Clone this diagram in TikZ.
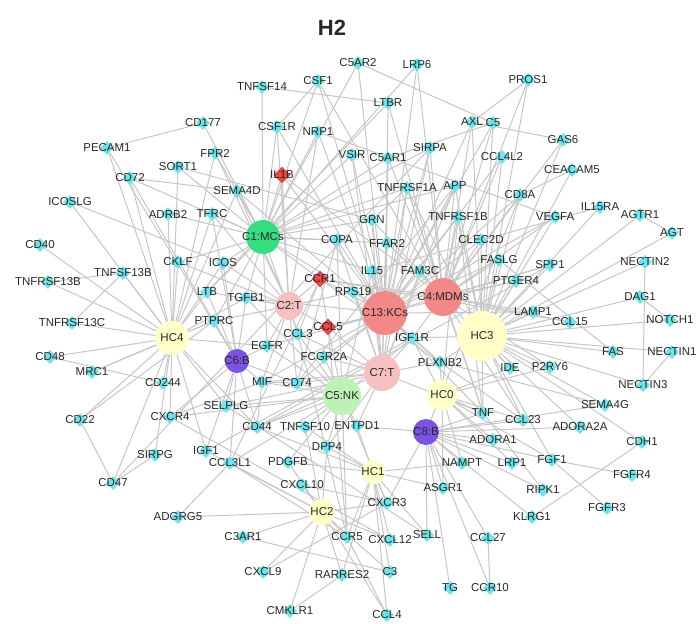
\documentclass[tikz,border=0pt]{standalone}
\usepackage{fontspec}
\setmainfont{Liberation Sans}
\usetikzlibrary{shapes.geometric}
\pgfdeclarelayer{back}
\pgfsetlayers{back,main}
\definecolor{genecyan}{RGB}{110,228,234}
\definecolor{genered}{RGB}{232,72,72}
\definecolor{mcgreen}{RGB}{52,222,128}
\definecolor{nkgreen}{RGB}{188,242,180}
\definecolor{kcsalmon}{RGB}{242,136,136}
\definecolor{tpink}{RGB}{247,192,192}
\definecolor{bpurple}{RGB}{124,82,228}
\definecolor{hcyellow}{RGB}{255,255,200}
\definecolor{linkgray}{RGB}{198,198,198}
\definecolor{txtgray}{RGB}{40,40,40}
\begin{document}
\begin{tikzpicture}[x=1pt,y=-1pt,
  every label/.style={font=\fontsize{11.5}{12}\selectfont, text=txtgray, inner sep=0pt},
  gene/.style={diamond, fill=genecyan, inner sep=0pt, minimum size=14pt, label={center:#1}},
  redgene/.style={gene=#1, fill=genered, minimum size=17pt},
  hub/.style={circle, inner sep=0pt, fill=#1},
  link/.style={draw=linkgray, line width=1pt}]
\useasboundingbox (0,0) rectangle (697,624);

\node[font=\bfseries\fontsize{22}{24}\selectfont, text=txtgray] (title) at (332,28) {H2};

% cell type hubs
\node[hub=mcgreen, minimum size=34pt, label={center:{C1:MCs}}] (mc1) at (263,237) {};
\node[hub=tpink, minimum size=28pt, label={center:{C2:T}}] (t2) at (289,306) {};
\node[hub=kcsalmon, minimum size=44pt, label={center:{C13:KCs}}] (kc13) at (385,313) {};
\node[hub=kcsalmon, minimum size=38pt, label={center:{C4:MDMs}}] (mdm4) at (443,297) {};
\node[hub=hcyellow, minimum size=50pt, label={center:HC3}] (hc3) at (482,336) {};
\node[hub=hcyellow, minimum size=34pt, label={center:HC4}] (hc4) at (172,338) {};
\node[hub=bpurple, minimum size=24pt, label={center:{C6:B}}] (b6) at (237,361) {};
\node[hub=tpink, minimum size=36pt, label={center:{C7:T}}] (t7) at (382,373) {};
\node[hub=nkgreen, minimum size=38pt, label={center:{C5:NK}}] (nk5) at (342,396) {};
\node[hub=hcyellow, minimum size=30pt, label={center:HC0}] (hc0) at (442,395) {};
\node[hub=bpurple, minimum size=26pt, label={center:{C8:B}}] (b8) at (426,432) {};
\node[hub=hcyellow, minimum size=24pt, label={center:HC1}] (hc1) at (373,472) {};
\node[hub=hcyellow, minimum size=26pt, label={center:HC2}] (hc2) at (322,512) {};

% genes
\foreach \n/\x/\y in {TNFSF14/262/87, CSF1/318/81, C5AR2/358/63, LRP6/417/65, PROS1/528/80,
  LTBR/388/103, CD177/203/123, CSF1R/277/127, NRP1/318/132, AXL/472/122, C5/493/123,
  PECAM1/107/148, FPR2/215/153, VSIR/352/155, C5AR1/388/158, SIRPA/430/148, GAS6/563/140,
  SORT1/178/167, CD72/130/178, SEMA4D/237/191, CCL4L2/502/157, TNFRSF1A/407/188, APP/455/186,
  CEACAM5/572/170, CD8A/520/195, ICOSLG/70/202, ADRB2/168/214, TFRC/212/214, GRN/372/220,
  TNFRSF1B/458/217, VEGFA/555/217, IL15RA/600/207, AGTR1/640/215, AGT/672/233, COPA/337/240,
  FFAR2/387/243, CLEC2D/481/240, CD40/40/245, FASLG/499/260, SPP1/550/265, NECTIN2/645/262,
  TNFSF13B/123/273, CKLF/178/262, ICOS/223/263, TNFRSF13B/48/282, IL15/372/271, FAM3C/420/271,
  PTGER4/516/281, DAG1/640/297, RPS19/353/292, LTB/207/292, TGFB1/246/298, LAMP1/533/312,
  CCL15/570/322, NOTCH1/670/320, TNFRSF13C/72/323, PTPRC/214/321, CCL3/298/334, IGF1R/412/338,
  FAS/613/352, NECTIN1/672/352, CD48/50/357, EGFR/267/346, FCGR2A/324/357, PLXNB2/440/362,
  P2RY6/550/367, IDE/510/368, MRC1/92/372, CD244/163/383, MIF/262/382, CD74/297/383,
  NECTIN3/643/385, CD22/80/420, CXCR4/170/417, SELPLG/226/406, TNF/483/413, CCL23/523/420,
  SEMA4G/605/405, ADORA2A/580/427, ADORA1/493/440, CDH1/642/442, CD44/257/427, TNFSF10/305/427,
  ENTPD1/357/426, SIRPG/155/455, IGF1/206/451, CCL3L1/230/463, PDGFB/288/462, DPP4/327/447,
  NAMPT/462/463, LRP1/512/463, FGF1/552/460, FGFR4/632/475, CD47/113/483, CXCL10/302/485,
  ASGR1/443/488, RIPK1/543/490, KLRG1/532/517, FGFR3/607/508, ADGRG5/178/517, CXCR3/387/503,
  C3AR1/243/537, CCR5/347/537, CXCL12/390/540, SELL/427/535, CCL27/488/538, CXCL9/263/572,
  RARRES2/342/575, C3/390/572, TG/450/588, CCR10/490/588, CMKLR1/290/611, CCL4/387/615}
  \node[gene=\n] (\n) at (\x,\y) {};
\node[redgene=IL1B] (IL1B) at (282,175) {};
\node[redgene=CCR1] (CCR1) at (320,279) {};
\node[redgene=CCL5] (CCL5) at (328,327) {};

\begin{pgfonlayer}{back}
% hub to gene links
\foreach \h/\gs in {
  mc1/{TNFSF14,CSF1,CSF1R,C5AR2,LRP6,NRP1,CD177,FPR2,IL1B,VSIR,C5AR1,SIRPA,SORT1,SEMA4D,TNFRSF1A,
    ADRB2,TFRC,GRN,COPA,CKLF,ICOS,CCR1,LTB,TGFB1,FFAR2,APP,PTPRC,IL15,CCL3,EGFR,CD72,RPS19},
  kc13/{CSF1,C5AR2,LRP6,LTBR,CSF1R,NRP1,IL1B,VSIR,C5AR1,SIRPA,AXL,C5,CCL4L2,TNFRSF1A,APP,GRN,
    TNFRSF1B,COPA,FFAR2,CLEC2D,IL15,FAM3C,CCR1,RPS19,CCL5,IGF1R,FCGR2A,TGFB1,CD74,PLXNB2,FASLG,
    VEGFA,CD8A,CCL3,EGFR,MIF,SPP1,PTGER4,LAMP1,TNF},
  mdm4/{CSF1,LTBR,LRP6,AXL,C5,PROS1,C5AR1,SIRPA,CCL4L2,TNFRSF1A,APP,TNFRSF1B,CD8A,GRN,FFAR2,
    CLEC2D,FASLG,FAM3C,PTGER4,VEGFA,IL1B,IGF1R,GAS6,SPP1,CCR1,TNF,CCL23,CCL15,LAMP1,IDE,P2RY6},
  hc3/{PROS1,GAS6,AXL,C5,CCL4L2,CEACAM5,CD8A,VEGFA,IL15RA,AGTR1,AGT,CLEC2D,TNFRSF1B,FASLG,SPP1,
    NECTIN2,PTGER4,DAG1,LAMP1,CCL15,NOTCH1,FAS,NECTIN1,P2RY6,IDE,NECTIN3,TNF,CCL23,SEMA4G,
    ADORA2A,CDH1,PLXNB2,IGF1R,FGF1,APP,TNFRSF1A},
  t2/{CSF1R,FPR2,TFRC,CKLF,ICOS,LTB,TGFB1,PTPRC,CCR1,CCL5,CCL3,RPS19,EGFR,IL1B,NRP1,MIF,CD74,SEMA4D},
  t7/{GRN,APP,COPA,FFAR2,IL15,FAM3C,IGF1R,FCGR2A,PLXNB2,CD74,CCL5,RPS19,TNFRSF1A,C5AR1,VSIR,
    SIRPA,CD44,ENTPD1,DPP4,TNF,CCL3,MIF,SELPLG},
  nk5/{COPA,CCL3,CCL5,FCGR2A,CD74,MIF,CD44,TNFSF10,ENTPD1,DPP4,PDGFB,CCL3L1,EGFR,SELPLG,TGFB1,
    IL15,CCR5,CXCR3,CXCR4,IGF1R},
  hc4/{PECAM1,CD72,SEMA4D,ICOSLG,ADRB2,TFRC,CD40,TNFSF13B,TNFRSF13B,TNFRSF13C,CKLF,ICOS,LTB,PTPRC,
    CD48,MRC1,CD244,CD22,CXCR4,SELPLG,SIRPG,CD47,IGF1,CD44,TGFB1,EGFR,FPR2,SORT1},
  b6/{PECAM1,CD72,TGFB1,EGFR,MIF,CD74,SELPLG,CD44,PTPRC,LTB,CXCR4,CCL3L1,IGF1,TFRC,ICOS},
  hc0/{TNF,IDE,ADORA1,NAMPT,FGF1,P2RY6,IGF1R,PLXNB2,TNFRSF1B,CCL23,LRP1,ASGR1},
  b8/{ADORA1,NAMPT,LRP1,RIPK1,KLRG1,ASGR1,SELL,CCL27,TG,TNF,CCL23,FGF1,CD8A,ENTPD1,CXCR3,CCR10,
    ADORA2A,SEMA4G},
  hc1/{ENTPD1,DPP4,CXCR3,ASGR1,NAMPT,SELL,CXCL12,CCR5,C3,RARRES2,CCL4,TNFSF10,PDGFB,CD44},
  hc2/{CXCL10,PDGFB,DPP4,TNFSF10,CCL3L1,C3AR1,CXCL9,CCR5,RARRES2,CMKLR1,C3,CXCR3,CXCL12,CCL4,
    ADGRG5,IGF1}}
  \foreach \g in \gs
    \draw[link] (\h) -- (\g);
% ligand to receptor links
\foreach \a/\b in {CD177/PECAM1, TNFSF14/LTBR, LTB/LTBR, CSF1/CSF1R, C5/C5AR1, C5/C5AR2,
  PROS1/AXL, GAS6/AXL, AGT/AGTR1, IL15/IL15RA, CEACAM5/CD8A, SEMA4D/CD72, SEMA4D/PLXNB2,
  SEMA4G/PLXNB2, ICOSLG/ICOS, TNFSF13B/TNFRSF13B, TNFSF13B/TNFRSF13C, GRN/TNFRSF1A, GRN/SORT1,
  TNF/TNFRSF1A, TNF/TNFRSF1B, TNF/RIPK1, FASLG/FAS, NECTIN2/NECTIN3, NECTIN3/NECTIN1, NOTCH1/DAG1,
  CD48/CD244, MRC1/PTPRC, CD22/PTPRC, MIF/CD74, MIF/CD44, MIF/CXCR4, APP/CD74, COPA/CD74,
  SPP1/CD44, IGF1/IGF1R, CXCL12/CXCR4, SELPLG/SELL, SIRPG/CD47, SIRPA/CD47, CCL5/CCR1, CCL5/CCR5,
  CCL3/CCR1, CCL3/CCR5, CCL3L1/CCR1, CCL3L1/CCR5, CCL4/CCR5, CCL23/CCR1, CCL15/CCR1,
  CXCL9/CXCR3, CXCL10/CXCR3, C3/C3AR1, RARRES2/CMKLR1, CCL27/CCR10, FGF1/FGFR3, FGF1/FGFR4,
  CDH1/KLRG1, VEGFA/NRP1, ADGRG5/CCL3L1, CD22/CD47}
  \draw[link] (\a) -- (\b);
\end{pgfonlayer}
\end{tikzpicture}
\end{document}
